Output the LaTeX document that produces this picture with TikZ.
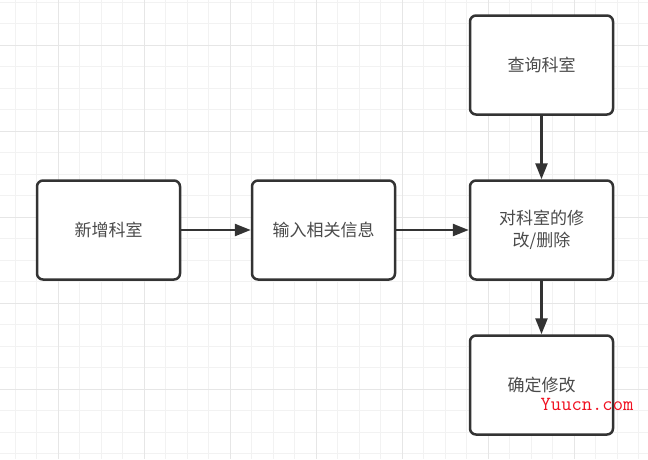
\documentclass[tikz,border=0pt]{standalone}
\usepackage{fontspec}
\newfontfamily\cjk{Noto Sans CJK SC}
\usetikzlibrary{arrows.meta}

\definecolor{gridminor}{HTML}{F2F2F2}
\definecolor{gridmajor}{HTML}{E6E6E6}
\definecolor{boxline}{HTML}{333333}
\definecolor{textgray}{HTML}{4A4A4A}
\definecolor{markred}{HTML}{F01020}

\tikzset{
  box/.style={draw=boxline, line width=2.5pt, rounded corners=6pt, fill=white,
    minimum width=143pt, minimum height=99pt, inner sep=0pt, align=center,
    text=textgray, font=\cjk\fontsize{17}{22}\selectfont},
  flow/.style={draw=boxline, line width=2.5pt, -{Triangle[length=16pt,width=12pt]}}
}

\begin{document}
\begin{tikzpicture}[x=1pt,y=-1pt]
        \useasboundingbox (0,0) rectangle (648,459);

        % grid
        \foreach \i in {0,...,30}
            \draw[gridminor, line width=1pt] ({15+21.5*\i},0) -- ++(0,459);
        \foreach \j in {0,...,21}
            \draw[gridminor, line width=1pt] (0,{2+21.5*\j}) -- ++(648,0);
        \foreach \x in {58,144,...,648}
            \draw[gridmajor, line width=1pt] (\x,0) -- ++(0,459);
        \foreach \y in {45,131,...,459}
            \draw[gridmajor, line width=1pt] (0,\y) -- ++(648,0);

        \node[box] (query)  at (541.5,65)  {查询科室};
        \node[box] (add)    at (108.5,230) {新增科室};
        \node[box] (input)  at (323.5,230) {输入相关信息};
        \node[box] (modify) at (541.5,230) {对科室的修\\改/删除};
        \node[box] (confirm) at (541.5,385) {确定修改};

        \draw[flow] (add) -- (input);
        \draw[flow] (input) -- (modify);
        \draw[flow] (query) -- (modify);
        \draw[flow] (modify) -- (confirm);

        \node[text=markred, font=\ttfamily\fontsize{20}{22}\selectfont] (mark) at (587,404) {Yuucn.com};
    \end{tikzpicture}
\end{document}
